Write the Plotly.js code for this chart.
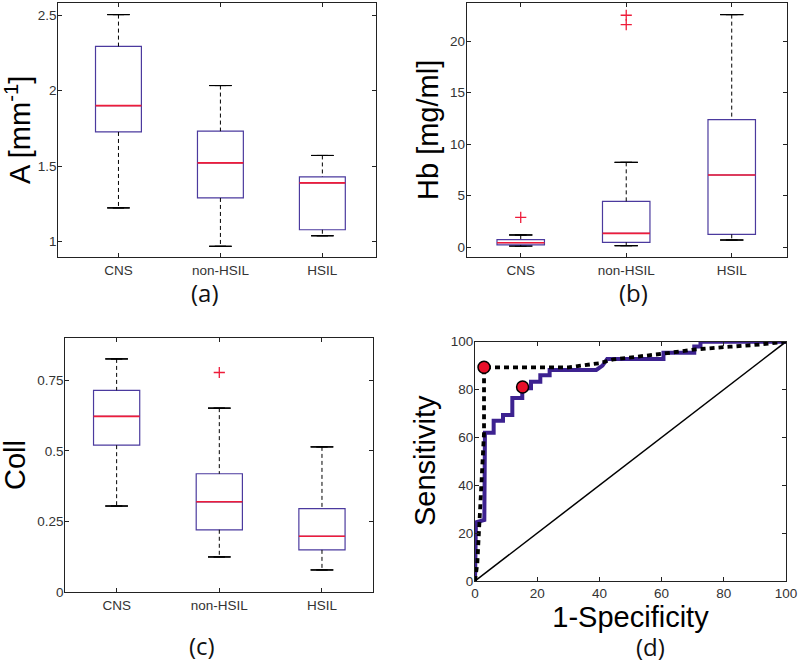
<!DOCTYPE html>
<html>
<head>
<meta charset="utf-8">
<script src="https://cdn.plot.ly/plotly-3.0.1.min.js"></script>
<style>
html,body{margin:0;padding:0;background:#fff;}
#chart{width:800px;height:663px;}
</style>
</head>
<body>
<div id="chart"></div>
<script>
// ---------- data ----------
const categories = ['CNS', 'non-HSIL', 'HSIL'];

// (a) A [mm^-1]
const aLower  = [1.222, 0.967, 1.037];
const aQ1     = [1.726, 1.288, 1.077];
const aMedian = [1.901, 1.521, 1.388];
const aQ3     = [2.294, 1.731, 1.428];
const aUpper  = [2.505, 2.034, 1.570];

// (b) Hb [mg/ml]
const hbLower  = [0.10, 0.13, 0.68];
const hbQ1     = [0.20, 0.46, 1.23];
const hbMedian = [0.42, 1.33, 7.00];
const hbQ3     = [0.71, 4.44, 12.38];
const hbUpper  = [1.17, 8.23, 22.59];
const hbOutlierCat = ['CNS', 'non-HSIL', 'non-HSIL'];
const hbOutlierVal = [2.89, 22.53, 21.62];

// (c) Coll
const collLower  = [0.305, 0.125, 0.079];
const collQ1     = [0.520, 0.221, 0.150];
const collMedian = [0.622, 0.320, 0.198];
const collQ3     = [0.714, 0.419, 0.296];
const collUpper  = [0.825, 0.651, 0.514];
const collOutlierCat = ['non-HSIL'];
const collOutlierVal = [0.777];

// (d) ROC curves: 1-Specificity (x) vs Sensitivity (y), in %
const rocSolidX = [0, 0.3, 3, 3.2, 6, 6, 9, 9, 12, 12, 15.2, 15.2, 18, 18, 21, 21, 24, 24, 39, 41, 42.5, 60.6, 60.6, 70.5, 70.5, 72.5, 72.5, 100];
const rocSolidY = [0, 24.5, 25.5, 62, 62, 67, 67, 69.4, 69.4, 76.5, 76.5, 80.5, 80.5, 83.3, 83.3, 86, 86, 88.2, 88.2, 90, 92.8, 92.8, 95.4, 95.4, 98, 98, 100, 100];
const rocDashX = [0, 0.75, 1.3, 1.8, 2.25, 2.7, 2.9, 2.9, 30, 40, 44.5, 60.5, 71, 82, 91.6, 100];
const rocDashY = [0, 7.4, 21.3, 35.2, 46.4, 57.5, 62, 89.3, 89.3, 91, 92.6, 95, 96.8, 97.9, 98.8, 100];
const chanceX = [0, 100];
const chanceY = [0, 100];
const opPointX = [2.9, 15.3];
const opPointY = [89.3, 81.1];

// ---------- styles ----------
const BOX_COLOR = '#4b3a9e';
const MED_COLOR = '#ee1c3a';
const BOX_W = 0.45;
const CAP_W = 0.22;

function boxPanel(xa, ya, lower, q1, med, q3, upper, outCat, outVal) {
  const tr = [];
  // dashed whiskers (upper and lower), built from the data
  const wx = [], wy = [];
  categories.forEach((c, i) => {
    wx.push(c, c, null, c, c, null);
    wy.push(upper[i], q3[i], null, q1[i], lower[i], null);
  });
  tr.push({type:'scatter', mode:'lines', x:wx, y:wy, xaxis:xa, yaxis:ya,
    line:{color:'#000', width:1, dash:'4px,3px'}, hoverinfo:'skip', showlegend:false});
  // caps
  [upper, lower].forEach(v => {
    tr.push({type:'box', x:categories, q1:v, median:v, q3:v, lowerfence:v, upperfence:v,
      width:CAP_W, xaxis:xa, yaxis:ya, line:{color:'#000', width:1},
      fillcolor:'rgba(0,0,0,0)', boxpoints:false, hoverinfo:'skip', showlegend:false});
  });
  // boxes
  tr.push({type:'box', x:categories, q1:q1, median:med, q3:q3, lowerfence:q1, upperfence:q3,
    width:BOX_W, xaxis:xa, yaxis:ya, line:{color:BOX_COLOR, width:1.2},
    fillcolor:'rgba(0,0,0,0)', boxpoints:false, hoverinfo:'skip', showlegend:false});
  // medians (red)
  tr.push({type:'box', x:categories, q1:med, median:med, q3:med, lowerfence:med, upperfence:med,
    width:BOX_W, xaxis:xa, yaxis:ya, line:{color:MED_COLOR, width:1.6},
    fillcolor:'rgba(0,0,0,0)', boxpoints:false, hoverinfo:'skip', showlegend:false});
  if (outCat) {
    tr.push({type:'scatter', mode:'markers', x:outCat, y:outVal, xaxis:xa, yaxis:ya,
      marker:{symbol:'cross-thin', size:8, line:{color:MED_COLOR, width:1.3}},
      hoverinfo:'skip', showlegend:false});
  }
  return tr;
}

const traces = [].concat(
  boxPanel('x', 'y', aLower, aQ1, aMedian, aQ3, aUpper),
  boxPanel('x2', 'y2', hbLower, hbQ1, hbMedian, hbQ3, hbUpper, hbOutlierCat, hbOutlierVal),
  boxPanel('x3', 'y3', collLower, collQ1, collMedian, collQ3, collUpper, collOutlierCat, collOutlierVal),
  [
    {type:'scatter', mode:'lines', x:chanceX, y:chanceY, xaxis:'x4', yaxis:'y4',
      line:{color:'#000', width:1.5}, hoverinfo:'skip', showlegend:false},
    {type:'scatter', mode:'lines', x:rocSolidX, y:rocSolidY, xaxis:'x4', yaxis:'y4',
      line:{color:'#3d2290', width:4}, hoverinfo:'skip', showlegend:false},
    {type:'scatter', mode:'lines', x:rocDashX, y:rocDashY, xaxis:'x4', yaxis:'y4',
      line:{color:'#000', width:3.8, dash:'5px,4px'}, hoverinfo:'skip', showlegend:false},
    {type:'scatter', mode:'markers', x:opPointX, y:opPointY, xaxis:'x4', yaxis:'y4',
      marker:{symbol:'circle', size:12, color:'#e8102a', line:{color:'#000', width:1.5}},
      hoverinfo:'skip', showlegend:false}
  ]
);

const TICKFONT = {family:'Liberation Sans, Arial, sans-serif', size:13.5, color:'#333'};
const TITLEFONT = {family:'Liberation Sans, Arial, sans-serif', size:29, color:'#000'};

function axisBase(extra) {
  return Object.assign({
    showline:true, linecolor:'#222', linewidth:1, mirror:'ticks',
    ticks:'inside', ticklen:4, tickcolor:'#222', tickwidth:1,
    showgrid:false, zeroline:false, fixedrange:true, automargin:false,
    tickfont:TICKFONT
  }, extra);
}
function catAxis(domain, range, anchor) {
  return axisBase({domain:domain, anchor:anchor, type:'category',
    categoryorder:'array', categoryarray:categories, range:range});
}
function valAxis(extra) {
  return axisBase(Object.assign({ticklabelstandoff:-2}, extra));
}

const W = 800, H = 663;
const dx = (a, b) => [a / W, b / W];
const dy = (top, bottom) => [1 - bottom / H, 1 - top / H];

// axis titles placed as rotated annotations for exact positioning
const yTitles = [
  ['A [mm<sup>-1</sup>]', 18, 130],
  ['Hb [mg/ml]', 428, 130],
  ['Coll', 15, 465],
  ['Sensitivity', 425, 461]
].map(([t, x, y]) => ({
  text:t, xref:'paper', yref:'paper', x:x / W, y:1 - y / H,
  xanchor:'center', yanchor:'middle', textangle:-90, showarrow:false,
  font:TITLEFONT
}));

const panelLabels = [
  ['(a)', 205, 292], ['(b)', 633, 292], ['(c)', 202, 645], ['(d)', 650, 646]
].map(([t, x, y]) => ({
  text:t, xref:'paper', yref:'paper', x:x / W, y:1 - y / H,
  xanchor:'center', yanchor:'middle', showarrow:false,
  font:{family:'Open Sans, Noto Sans, sans-serif', size:24, color:'#111'}
}));

const layout = {
  width:W, height:H,
  margin:{l:0, r:0, t:0, b:0},
  paper_bgcolor:'#fff', plot_bgcolor:'#fff',
  showlegend:false, boxmode:'overlay',
  xaxis:  catAxis(dx(58.3, 376), [-0.59, 2.526], 'y'),
  yaxis:  valAxis({domain:dy(3, 257.3), anchor:'x', range:[0.894, 2.582], dtick:0.5, tick0:0}),
  xaxis2: catAxis(dx(466.7, 786.7), [-0.512, 2.521], 'y2'),
  yaxis2: valAxis({domain:dy(3, 257.3), anchor:'x2', range:[-1.0, 23.72], dtick:5, tick0:0}),
  xaxis3: catAxis(dx(65.3, 373.3), [-0.5, 2.5], 'y3'),
  yaxis3: valAxis({domain:dy(337.7, 592.3), anchor:'x3', range:[0, 0.9],
           tickvals:[0, 0.25, 0.5, 0.75], ticktext:['0', '0.25', '0.5', '0.75']}),
  xaxis4: axisBase({domain:dx(475, 786), anchor:'y4', range:[0, 100], dtick:20, tick0:0,
           title:{text:'1-Specificity', font:TITLEFONT, standoff:4}}),
  yaxis4: valAxis({domain:dy(341.7, 581), anchor:'x4', range:[0, 100], dtick:20, tick0:0}),
  annotations: yTitles.concat(panelLabels)
};

Plotly.newPlot('chart', traces, layout, {displayModeBar:false, staticPlot:true});
</script>
</body>
</html>
